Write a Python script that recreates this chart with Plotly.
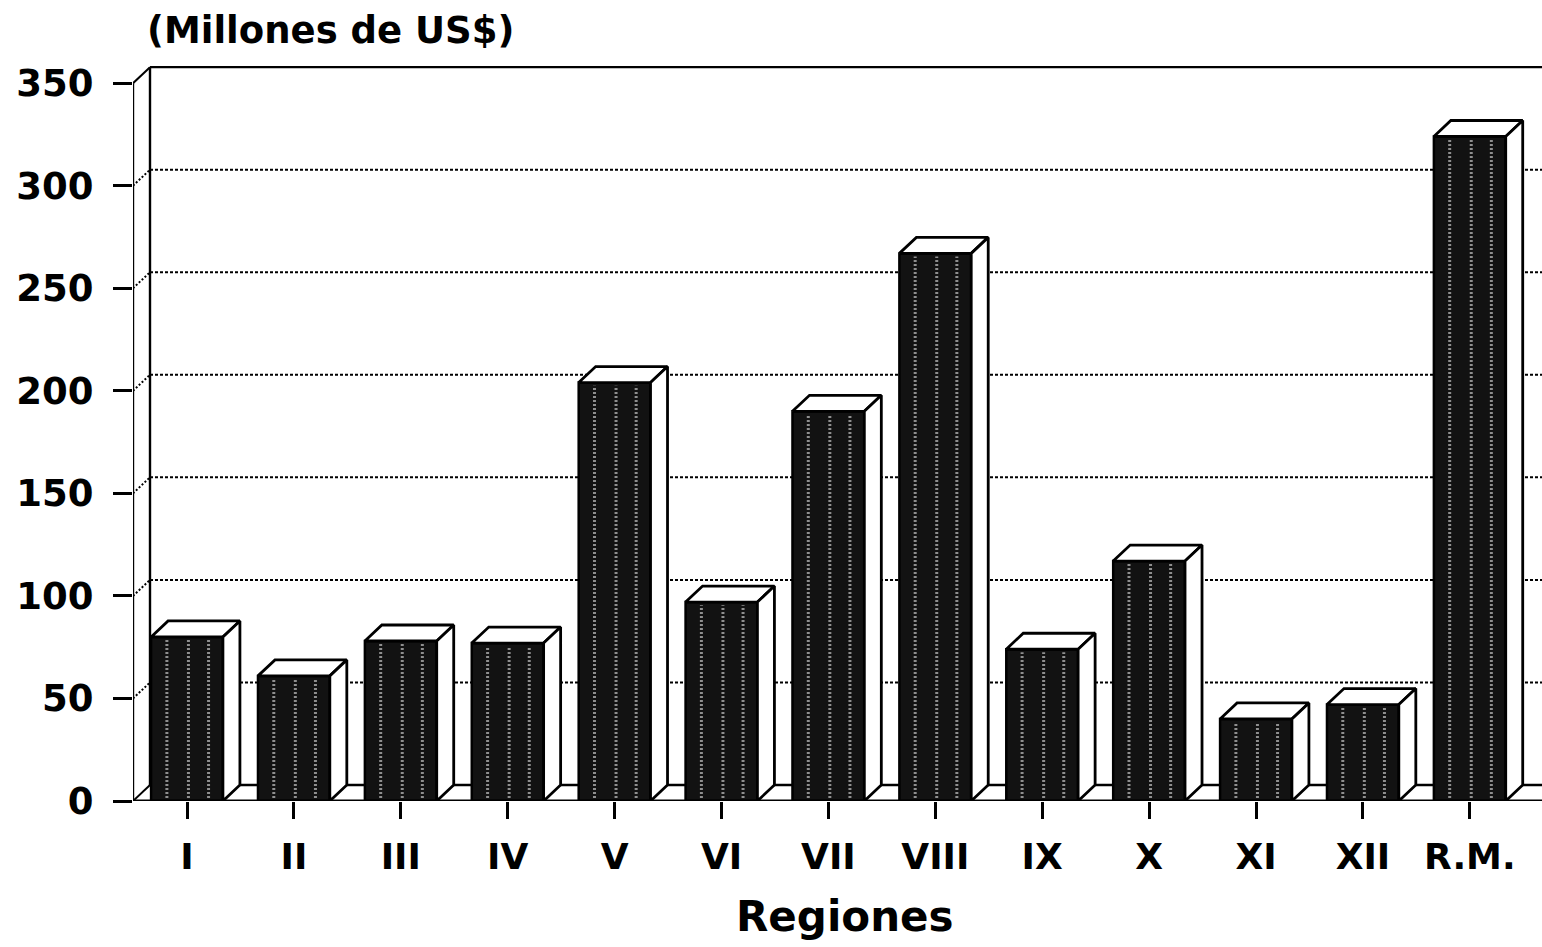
import plotly.graph_objects as go

# ---- data ----
regiones = ["I", "II", "III", "IV", "V", "VI", "VII", "VIII", "IX", "X", "XI", "XII", "R.M."]
valores = [80, 61, 78, 77, 204, 97, 190, 267, 74, 117, 40, 47, 324]
y_ticks = [0, 50, 100, 150, 200, 250, 300, 350]
y_label = "(Millones de US$)"
x_label = "Regiones"

# ---- geometry ----
W_PX, H_PX = 1542, 947
L, R, T, B = 133, 0, 60, 146
plot_w = W_PX - L - R
plot_h = H_PX - T - B
px_per_cat = 106.9
x0_px = 187.0
x_left = (L - x0_px) / px_per_cat
x_right = x_left + plot_w / px_per_cat
y_max_val = 350
px_per_unit = 2.051
y_top = plot_h / px_per_unit
bw = 0.672
dx = 17 / px_per_cat
dy = 16 / px_per_unit

xs = list(range(len(regiones)))

fig = go.Figure()

shapes = []
# back wall gridlines (dotted) + diagonals from the front axis
for v in y_ticks[1:-1]:
    shapes.append(dict(type="line", xref="x", yref="y", x0=x_left + dx, x1=x_right, y0=v + dy, y1=v + dy,
                       line=dict(color="black", width=2, dash="3px,2px"), layer="below"))
    shapes.append(dict(type="line", xref="x", yref="y", x0=x_left, x1=x_left + dx, y0=v, y1=v + dy,
                       line=dict(color="black", width=2, dash="2px,2px"), layer="below"))
# back wall: left edge, top edge, floor back line
shapes.append(dict(type="line", xref="x", yref="y", x0=x_left + dx, x1=x_left + dx, y0=dy, y1=y_max_val + dy,
                   line=dict(color="black", width=2.4), layer="below"))
shapes.append(dict(type="line", xref="x", yref="y", x0=x_left + dx, x1=x_right, y0=y_max_val + dy, y1=y_max_val + dy,
                   line=dict(color="black", width=2.4), layer="below"))
shapes.append(dict(type="line", xref="x", yref="y", x0=x_left + dx, x1=x_right, y0=dy, y1=dy,
                   line=dict(color="black", width=2.4), layer="below"))
shapes.append(dict(type="line", xref="x", yref="y", x0=x_left, x1=x_left + dx, y0=0, y1=dy,
                   line=dict(color="black", width=2), layer="below"))
# front axis + top diagonal
shapes.append(dict(type="line", xref="x", yref="y", x0=x_left, x1=x_left, y0=0, y1=y_max_val,
                   line=dict(color="black", width=2.4), layer="above"))
shapes.append(dict(type="line", xref="x", yref="y", x0=x_left, x1=x_left + dx, y0=y_max_val, y1=y_max_val + dy,
                   line=dict(color="black", width=2), layer="above"))
# front floor line
shapes.append(dict(type="line", xref="x", yref="y", x0=x_left, x1=x_right, y0=0, y1=0,
                   line=dict(color="black", width=2.8), layer="above"))

# front faces
fig.add_trace(go.Bar(x=xs, y=valores, width=bw, marker=dict(color="#121212", line=dict(color="black", width=2.5)),
                     hoverinfo="skip", showlegend=False))

# light vertical streaks on the front faces
for xi, v in zip(xs, valores):
    for f in (-0.28, 0.02, 0.30):
        fig.add_trace(go.Scatter(x=[xi + f * bw, xi + f * bw], y=[1.5, v - 1.5], mode="lines",
                                 line=dict(color="#8f8f8f", width=3, dash="2px,2px"),
                                 hoverinfo="skip", showlegend=False))

# top and side faces
for xi, v in zip(xs, valores):
    xl, xr = xi - bw / 2, xi + bw / 2
    fig.add_trace(go.Scatter(x=[xl, xr, xr + dx, xl + dx, xl], y=[v, v, v + dy, v + dy, v],
                             mode="lines", fill="toself", fillcolor="white",
                             line=dict(color="black", width=2.8), hoverinfo="skip", showlegend=False))
    fig.add_trace(go.Scatter(x=[xr, xr + dx, xr + dx, xr, xr], y=[0, dy, v + dy, v, 0],
                             mode="lines", fill="toself", fillcolor="white",
                             line=dict(color="black", width=2.8), hoverinfo="skip", showlegend=False))

font_fam = "DejaVu Sans"
fig.update_layout(
    width=W_PX, height=H_PX,
    margin=dict(l=L, r=R, t=T, b=B),
    paper_bgcolor="white", plot_bgcolor="white",
    showlegend=False,
    shapes=shapes,
    xaxis=dict(range=[x_left, x_right], tickmode="array", tickvals=xs, ticktext=regiones,
               ticks="outside", ticklen=17, tickwidth=2.5, tickcolor="black",
               showgrid=False, zeroline=False, showline=False,
               ticklabelstandoff=7,
               tickfont=dict(family=font_fam, size=36, color="black", weight="bold")),
    yaxis=dict(range=[0, y_top], tickmode="array", tickvals=y_ticks, ticktext=[str(t) for t in y_ticks],
               ticks="outside", ticklen=19, tickwidth=2.5, tickcolor="black",
               showgrid=False, zeroline=False, showline=False,
               ticklabelstandoff=12,
               tickfont=dict(family=font_fam, size=37, color="black", weight="bold")),
    annotations=[
        dict(text=y_label, xref="paper", yref="paper", x=(145 - L) / plot_w,
             y=(H_PX - B - 30) / plot_h,
             xanchor="left", yanchor="middle", showarrow=False,
             font=dict(family=font_fam, size=37, color="black", weight="bold")),
        dict(text=x_label, xref="paper", yref="paper", x=(845 - L) / plot_w,
             y=(H_PX - B - 917) / plot_h,
             xanchor="center", yanchor="middle", showarrow=False,
             font=dict(family=font_fam, size=42, color="black", weight="bold")),
    ],
)

fig.write_html("out.html", config={"displayModeBar": False},
               post_script="document.body.style.margin='0px';document.body.style.overflow='hidden';")
